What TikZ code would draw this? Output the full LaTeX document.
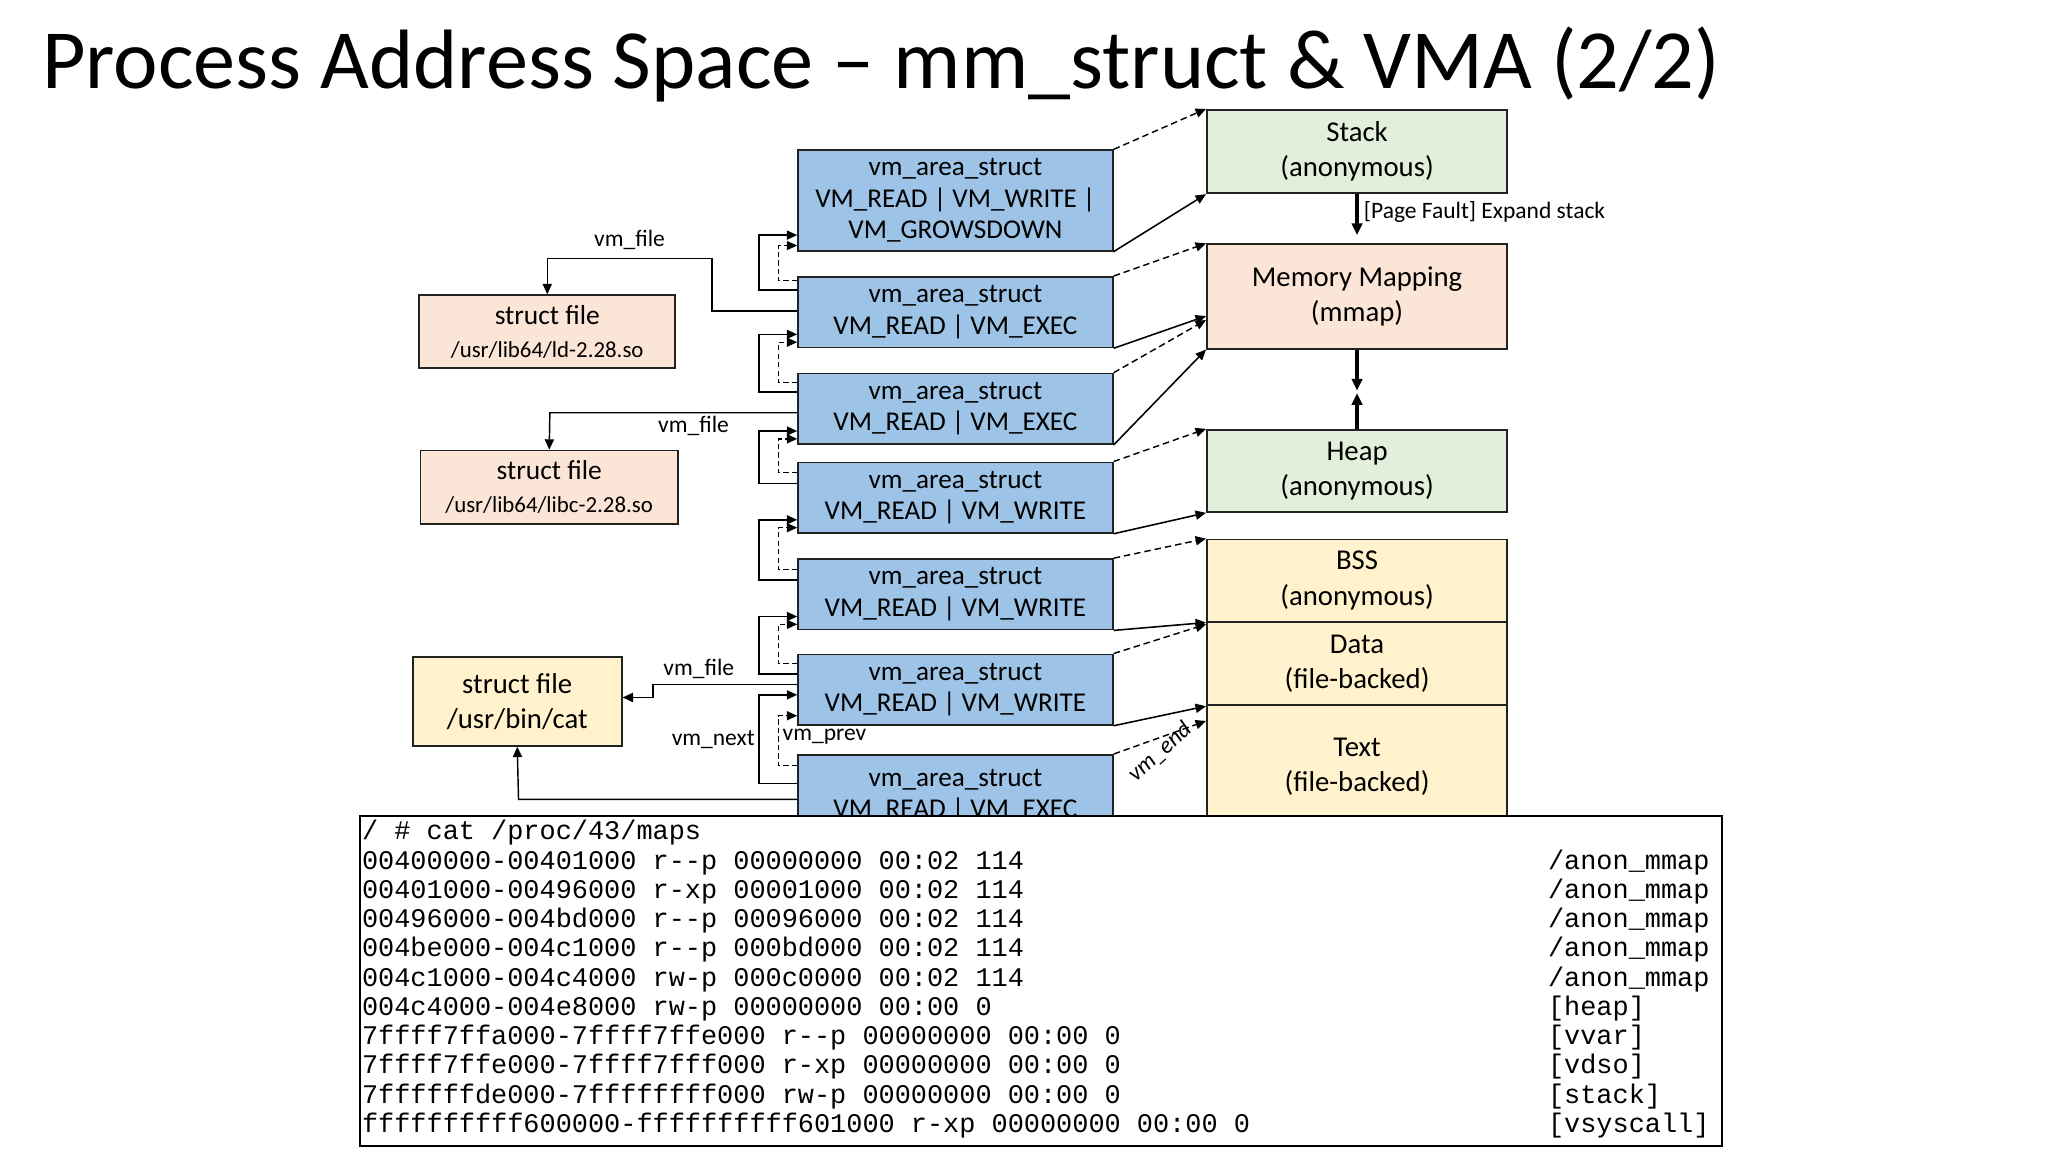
\documentclass[tikz,border=0pt]{standalone}
\usepackage{fontspec}
\setmainfont{Carlito}
\newfontfamily\monof{Liberation Mono}
\usetikzlibrary{arrows.meta,calc}
\definecolor{vmblue}{HTML}{9DC3E6}
\definecolor{anongreen}{HTML}{E2EFDA}
\definecolor{peach}{HTML}{FBE5D6}
\definecolor{yel}{HTML}{FFF2CC}
\definecolor{edge}{HTML}{222222}
\tikzset{
  box/.style={draw=edge, line width=1.3pt, align=center, inner sep=0pt},
  vm/.style={box, fill=vmblue, minimum width=241pt, font=\fontsize{20.8}{24}\selectfont},
  reg/.style={box, minimum width=230pt, font=\fontsize{22}{27}\selectfont},
  sf/.style={box, fill=peach},
  tip/.style={-{Triangle[length=8pt,width=7pt]}},
  sol/.style={tip, line width=1.2pt},
  dsh/.style={tip, line width=1.1pt, dash pattern=on 5pt off 3pt},
  lbl/.style={font=\fontsize{18}{20}\selectfont, inner sep=1pt},
  term/.style={font=\monof\fontsize{20.6}{22}\selectfont, anchor=base west, inner sep=0pt},
}
\begin{document}
\begin{tikzpicture}[x=1pt,y=-1pt]
\path[use as bounding box, fill=white] (0,0) rectangle (1568,882);
\node[anchor=base west, inner sep=0pt, font=\fontsize{64.5}{70}\selectfont] (title) at (32,68) {Process Address Space -- mm\_struct \& VMA (2/2)};

% right regions
\node[reg, fill=anongreen, minimum height=64pt] (stack) at (1039,116) {Stack\\(anonymous)};
\node[reg, fill=peach, minimum height=80pt] (mmap) at (1039,227) {Memory Mapping\\(mmap)};
\node[reg, fill=anongreen, minimum height=63pt] (heap) at (1039,360.5) {Heap\\(anonymous)};
\node[reg, fill=yel, minimum height=63pt] (bss) at (1039,444.5) {BSS\\(anonymous)};
\node[reg, fill=yel, minimum height=64pt] (data) at (1039,508) {Data\\(file-backed)};
\node[reg, fill=yel, minimum height=94pt] (text) at (1039,587) {Text\\(file-backed)};

% vm areas
\node[vm, minimum height=77pt] (v1) at (731.5,153.5) {vm\_area\_struct\\VM\_READ | VM\_WRITE |\\VM\_GROWSDOWN};
\node[vm, minimum height=54pt] (v2) at (731.5,239) {vm\_area\_struct\\VM\_READ | VM\_EXEC};
\node[vm, minimum height=54pt] (v3) at (731.5,313) {vm\_area\_struct\\VM\_READ | VM\_EXEC};
\node[vm, minimum height=54pt] (v4) at (731.5,381) {vm\_area\_struct\\VM\_READ | VM\_WRITE};
\node[vm, minimum height=54pt] (v5) at (731.5,455) {vm\_area\_struct\\VM\_READ | VM\_WRITE};
\node[vm, minimum height=54pt] (v6) at (731.5,528) {vm\_area\_struct\\VM\_READ | VM\_WRITE};
\node[vm, minimum height=62pt] (v7) at (731.5,609) {vm\_area\_struct\\VM\_READ | VM\_EXEC};

% struct files
\node[sf, minimum width=196pt, minimum height=56pt, font=\fontsize{17.5}{25}\selectfont] (fld) at (419,254) {{\fontsize{21}{24}\selectfont struct file}\\/usr/lib64/ld-2.28.so};
\node[sf, minimum width=197pt, minimum height=56pt, font=\fontsize{17.5}{25}\selectfont] (flibc) at (420.5,373) {{\fontsize{21}{24}\selectfont struct file}\\/usr/lib64/libc-2.28.so};
\node[box, fill=yel, minimum width=160pt, minimum height=68pt, font=\fontsize{22}{27}\selectfont] (fcat) at (396,537) {struct file\\/usr/bin/cat};

% vm -> region (start solid, top dashed)
\draw[sol] (v1.south east) -- (stack.south west);
\draw[dsh] (v1.north east) -- (stack.north west);
\draw[sol] (v2.south east) -- (mmap.west |- 0,242);
\draw[dsh] (v2.north east) -- (mmap.north west);
\draw[sol] (v3.south east) -- (mmap.south west);
\draw[dsh] (v3.north east) -- (mmap.west |- 0,245);
\draw[sol] (v4.south east) -- (heap.south west);
\draw[dsh] (v4.north east) -- (heap.north west);
\draw[sol] (v5.south east) -- (bss.south west);
\draw[dsh] (v5.north east) -- (bss.north west);
\draw[sol] (v6.south east) -- (data.south west);
\draw[dsh] (v6.north east) -- (data.west |- 0,478);
\draw[dsh] (v7.north east) -- (text.west |- 0,552);
\node[lbl, rotate=42, font=\itshape\fontsize{18}{20}\selectfont] (vmend) at (888,576) {vm\_end};

% stack grow, mmap/heap
\draw[-{Triangle[length=9pt,width=8pt]}, line width=2.6pt] (stack.south) -- (1039,180);
\node[lbl, anchor=west] (pf) at (1043,162) {[Page Fault] Expand stack};
\draw[-{Triangle[length=9pt,width=8pt]}, line width=2.6pt] (mmap.south) -- (1039,299);
\draw[-{Triangle[length=9pt,width=8pt]}, line width=2.6pt] (heap.north) -- (1039,301);

% linked list
\foreach \a/\b/\yi/\yo/\di/\do in {v1/v2/180/222/188/215, v2/v3/256/300/262/293, v3/v4/330/370/336/362, v4/v5/398/444/404/436, v5/v6/472/516/478/508, v6/v7/532/600/548/586}{
  \draw[sol, line width=1.1pt] (\b.west |- 0,\yo) -- (581,\yo) -- (581,\yi) -- (\a.west |- 0,\yi);
  \draw[dsh, line width=1pt, dash pattern=on 4pt off 2.5pt] (\a.west |- 0,\do) -- (596,\do) -- (596,\di) -- (\b.west |- 0,\di);
}
\node[lbl, anchor=east] (vmnext) at (579,566) {vm\_next};
\node[lbl, anchor=west] (vmprev) at (598,564) {vm\_prev};

% vm_file
\draw[sol, line width=1.1pt] (v2.west |- 0,238) -- (545,238) -- (545,198) -- (419,198) -- (fld.north);
\node[lbl] (f1) at (482,184) {vm\_file};
\draw[sol, line width=1.1pt] (v3.west |- 0,316) -- (421,316) -- (flibc.north);
\node[lbl] (f2) at (531,326) {vm\_file};
\draw[sol, line width=1.1pt] (v6.west |- 0,524) -- (500,524) -- (500,534) -- (fcat.east |- 0,534);
\node[lbl] (f3) at (535,512) {vm\_file};
\draw[sol, line width=1.1pt] (v7.west |- 0,612) -- (397,612) -- (fcat.south);
\node[lbl] (f4) at (505,632) {vm\_file};

% terminal
\node[draw=black, line width=1.4pt, fill=white, minimum width=1043pt, minimum height=253pt, anchor=north west, inner sep=0pt] (termbox) at (275,624) {};
\foreach \t/\r [count=\i from 0] in {
 {/ \# cat /proc/43/maps}/{},
 {00400000-00401000 r--p 00000000 00:02 114}/{/anon\_mmap},
 {00401000-00496000 r-xp 00001000 00:02 114}/{/anon\_mmap},
 {00496000-004bd000 r--p 00096000 00:02 114}/{/anon\_mmap},
 {004be000-004c1000 r--p 000bd000 00:02 114}/{/anon\_mmap},
 {004c1000-004c4000 rw-p 000c0000 00:02 114}/{/anon\_mmap},
 {004c4000-004e8000 rw-p 00000000 00:00 0}/{[heap]},
 {7ffff7ffa000-7ffff7ffe000 r--p 00000000 00:00 0}/{[vvar]},
 {7ffff7ffe000-7ffff7fff000 r-xp 00000000 00:00 0}/{[vdso]},
 {7ffffffde000-7ffffffff000 rw-p 00000000 00:00 0}/{[stack]},
 {ffffffffff600000-ffffffffff601000 r-xp 00000000 00:00 0}/{[vsyscall]}}{
  \node[term] (tl\i) at (277,{643+22.4*\i}) {\t};
  \node[term] (tr\i) at (1185,{643+22.4*\i}) {\r};
}
\end{tikzpicture}
\end{document}
